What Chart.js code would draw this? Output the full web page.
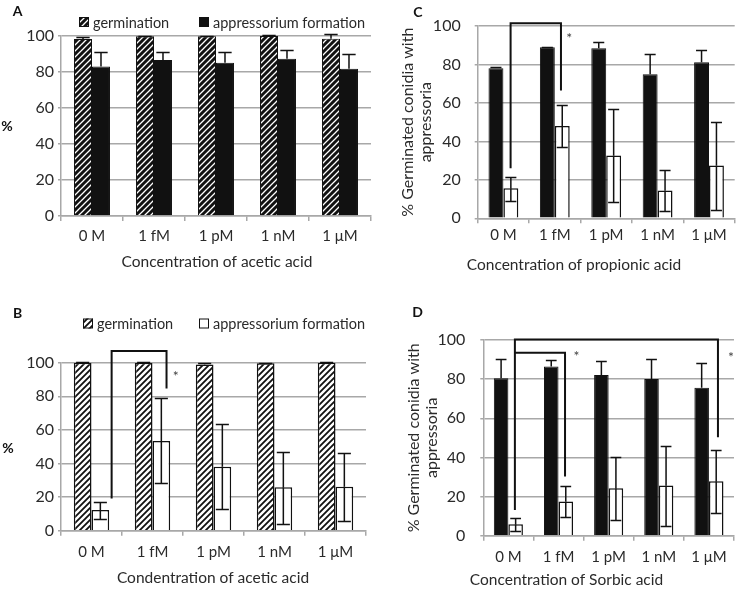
<!DOCTYPE html>
<html>
<head>
<meta charset="utf-8">
<script src="https://cdn.jsdelivr.net/npm/chart.js@4.4.1/dist/chart.umd.min.js"></script>
<style>
  html, body { margin: 0; padding: 0; background: #fff; }
  #wrap { position: relative; width: 739px; height: 590px; overflow: hidden; }
  .panel { position: absolute; }
</style>
</head>
<body>
<div id="wrap">
  <div class="panel" style="left:0;top:0;width:372px;height:272px"><canvas id="chartA"></canvas></div>
  <div class="panel" style="left:0;top:280px;width:370px;height:310px"><canvas id="chartB"></canvas></div>
  <div class="panel" style="left:370px;top:0;width:369px;height:272px"><canvas id="chartC"></canvas></div>
  <div class="panel" style="left:370px;top:280px;width:369px;height:310px"><canvas id="chartD"></canvas></div>
</div>
<script>
// ---- data ---------------------------------------------------------------
const concLabels = ['0 M', '1 fM', '1 pM', '1 nM', '1 μM'];

// A: acetic acid (germination / appressorium formation)
const germA = [98.3, 99.8, 99.8, 100, 98.5];
const germAHi = [99.4, 100, 100, 100.6, 101.3];
const apprA = [83.1, 86.6, 85.2, 87.4, 81.8];
const apprAHi = [90.9, 91.3, 90.9, 92.0, 90.2];

// B: acetic acid, second experiment
const germB = [100, 100, 99.0, 99.6, 100];
const germBHi = [100.2, 100.2, 99.6, 100, 100.2];
const apprB = [12.3, 53.4, 38.1, 25.8, 26.2];
const apprBHi = [16.9, 78.8, 63.5, 47.0, 46.4];
const apprBLo = [7.1, 28.4, 12.7, 3.8, 6.0];

// C: propionic acid
const darkC = [78.0, 88.9, 88.4, 74.9, 81.1];
const darkCHi = [78.9, 89.2, 91.5, 85.3, 87.3];
const lightC = [15.6, 48.0, 32.6, 14.4, 27.4];
const lightCHi = [21.7, 58.9, 56.8, 25.0, 50.1];
const lightCLo = [9.0, 36.9, 8.3, 4.0, 4.3];

// D: sorbic acid
const darkD = [80.4, 86.4, 82.1, 80.1, 75.6];
const darkDHi = [90.5, 89.8, 89.3, 90.5, 88.4];
const lightD = [5.8, 17.5, 24.2, 25.6, 27.8];
const lightDHi = [9.0, 25.4, 40.2, 46.0, 44.0];
const lightDLo = [2.6, 9.4, 8.0, 5.1, 11.8];

// significance brackets: [fromCat, toCat, level, leftDrop, rightDrop]
const bracketsB = [[0.33, 1.23, 107, 19.2, 84.7]];
const bracketsC = [[0.14, 1.12, 101.4, 26, 66.4]];
const bracketsD = [[0.13, 4.18, 100.2, 13.1, 50.3], [0.13, 1.13, 93.5, 93.5, 30.2]];
// asterisks: [cat, value]
const starsB = [[1.38, 92.7]];
const starsC = [[1.28, 94.3]];
const starsD = [[1.36, 92.8], [4.44, 92.3]];

// ---- look ---------------------------------------------------------------
const FONT = "Lato, 'Open Sans', sans-serif";
const TXT = '#2a2a2a';
const GRID = '#a8a8a8';
Chart.defaults.font.family = FONT;
Chart.defaults.font.size = 15;
Chart.defaults.color = TXT;
Chart.defaults.animation = false;

const hatch = (bg, fg, lw, n) => {
  const c = document.createElement('canvas');
  c.width = n; c.height = n;
  const g = c.getContext('2d');
  g.fillStyle = bg; g.fillRect(0, 0, n, n);
  g.strokeStyle = fg; g.lineWidth = lw;
  g.beginPath();
  g.moveTo(-1, n + 1); g.lineTo(n + 1, -1);
  g.moveTo(-n, n); g.lineTo(n, -n);
  g.moveTo(0, 2 * n); g.lineTo(2 * n, 0);
  g.stroke();
  return g.createPattern(c, 'repeat');
};
const darkHatch = hatch('#111', '#fff', 1.3, 6);
const lightHatch = hatch('#fff', '#111', 1.8, 6);

// error bars, brackets, stars, legend and captions
const deco = {
  id: 'deco',
  afterDatasetsDraw(chart, args, o) {
    const { ctx } = chart;
    const xs = chart.scales.x, ys = chart.scales.y;
    ctx.save();
    ctx.strokeStyle = '#111';
    ctx.lineWidth = 1.5;
    (o.errors || []).forEach((err, di) => {
      if (!err) return;
      chart.getDatasetMeta(di).data.forEach((bar, i) => {
        const half = bar.width * 0.37;
        [err.hi, err.lo].forEach((arr) => {
          if (!arr) return;
          const ye = Math.round(ys.getPixelForValue(arr[i])) + 0.5;
          ctx.beginPath();
          ctx.moveTo(bar.x, bar.y);
          ctx.lineTo(bar.x, ye);
          ctx.moveTo(bar.x - half, ye);
          ctx.lineTo(bar.x + half, ye);
          ctx.stroke();
        });
      });
    });
    ctx.lineWidth = 2;
    (o.brackets || []).forEach(([a, b, lvl, dl, dr]) => {
      const x1 = xs.getPixelForValue(a), x2 = xs.getPixelForValue(b);
      const yl = ys.getPixelForValue(lvl);
      ctx.beginPath();
      ctx.moveTo(x1, ys.getPixelForValue(dl));
      ctx.lineTo(x1, yl);
      ctx.lineTo(x2, yl);
      ctx.lineTo(x2, ys.getPixelForValue(dr));
      ctx.stroke();
    });
    ctx.fillStyle = '#444';
    ctx.font = '14px ' + FONT;
    ctx.textAlign = 'center';
    ctx.textBaseline = 'middle';
    (o.stars || []).forEach(([c, v]) => {
      ctx.fillText('*', xs.getPixelForValue(c), ys.getPixelForValue(v) + 2);
    });
    ctx.restore();
  },
  afterDraw(chart, args, o) {
    const { ctx } = chart;
    ctx.save();
    ctx.textBaseline = 'middle';
    ctx.fillStyle = '#111';
    ctx.font = 'bold 14px ' + FONT;
    ctx.textAlign = 'center';
    if (o.letter) ctx.fillText(o.letter[0], o.letter[1], o.letter[2]);
    if (o.pct) ctx.fillText('%', o.pct[0], o.pct[1]);
    ctx.fillStyle = TXT;
    ctx.font = '15.5px ' + FONT;
    if (o.xTitle) ctx.fillText(o.xTitle[0], o.xTitle[1], o.xTitle[2]);
    ctx.textAlign = 'left';
    ctx.font = '14.5px ' + FONT;
    (o.legend || []).forEach(([label, fill, x, y]) => {
      ctx.fillStyle = fill;
      ctx.fillRect(x, y - 5, 10, 10);
      ctx.strokeStyle = '#111';
      ctx.lineWidth = 1;
      ctx.strokeRect(x + 0.5, y - 4.5, 9, 9);
      ctx.fillStyle = TXT;
      ctx.fillText(label, x + 14, y + 1);
    });
    ctx.restore();
  },
};

const makePanel = (id, p) => {
  const datasets = p.series.map((s) => ({
    data: s.data,
    backgroundColor: s.fill,
    borderColor: '#111',
    borderWidth: s.border,
    borderSkipped: 'bottom',
    categoryPercentage: 0.58,
    barPercentage: 1.0,
  }));
  return new Chart(document.getElementById(id), {
    type: 'bar',
    data: { labels: concLabels, datasets },
    plugins: [deco],
    options: {
      responsive: true,
      maintainAspectRatio: false,
      layout: { padding: p.pad },
      plugins: {
        legend: { display: false },
        tooltip: { enabled: false },
        deco: p.deco,
      },
      scales: {
        x: {
          grid: { offset: true, drawOnChartArea: false, color: GRID, lineWidth: 1.5, tickLength: 5 },
          border: { color: GRID, width: 1.5 },
          ticks: { padding: p.xPad, color: TXT, font: { size: 15 } },
          afterFit: (s) => { s.height = p.xHeight; },
        },
        y: {
          min: 0,
          max: 100,
          ticks: { stepSize: 20, padding: p.yPad, color: TXT, font: { size: 16 } },
          grid: { color: GRID, lineWidth: 1.5, tickLength: 3 },
          border: { color: GRID, width: 1.5 },
          title: p.yTitle
            ? { display: true, text: p.yTitle, color: TXT, font: { size: 16, lineHeight: 1.12 }, padding: { top: p.yTitlePad, bottom: 0 } }
            : { display: false },
          afterFit: (s) => { s.width = p.yWidth; },
        },
      },
    },
  });
};

// A
makePanel('chartA', {
  series: [
    { data: germA, fill: darkHatch, border: 1 },
    { data: apprA, fill: '#111', border: 1 },
  ],
  pad: { top: 36, right: 1, left: 0, bottom: 0 },
  xHeight: 56, xPad: 6, yPad: 4, yWidth: 61,
  deco: {
    errors: [{ hi: germAHi }, { hi: apprAHi }],
    letter: ['A', 17.5, 11],
    pct: [7, 126],
    xTitle: ['Concentration of acetic acid', 217, 261.5],
    legend: [['germination', darkHatch, 79, 22], ['appressorium formation', '#111', 199, 22]],
  },
});

// B
makePanel('chartB', {
  series: [
    { data: germB, fill: lightHatch, border: 1.5 },
    { data: apprB, fill: '#fff', border: 1.5 },
  ],
  pad: { top: 82.7, right: 4, left: 0, bottom: 0 },
  xHeight: 59.3, xPad: 7.5, yPad: 4, yWidth: 61,
  deco: {
    errors: [{ hi: germBHi }, { hi: apprBHi, lo: apprBLo }],
    brackets: bracketsB,
    stars: starsB,
    letter: ['B', 17.5, 33.5],
    pct: [8, 168],
    xTitle: ['Condentration of acetic acid', 213, 298],
    legend: [['germination', lightHatch, 83, 43.5], ['appressorium formation', '#fff', 199, 43.5]],
  },
});

// C
makePanel('chartC', {
  series: [
    { data: darkC, fill: '#111', border: 1 },
    { data: lightC, fill: '#fff', border: 1.5 },
  ],
  pad: { top: 26, right: 4.3, left: 0, bottom: 0 },
  xHeight: 53.7, xPad: 2.5, yPad: 14, yWidth: 107.7,
  yTitle: ['% Germinated conidia with', 'appressoria'],
  yTitlePad: 29,
  deco: {
    errors: [{ hi: darkCHi }, { hi: lightCHi, lo: lightCLo }],
    brackets: bracketsC,
    stars: starsC,
    letter: ['C', 48, 12],
    xTitle: ['Concentration of propionic acid', 204, 265],
  },
});

// D
makePanel('chartD', {
  series: [
    { data: darkD, fill: '#111', border: 1 },
    { data: lightD, fill: '#fff', border: 1.5 },
  ],
  pad: { top: 60, right: 5, left: 0, bottom: 0 },
  xHeight: 54.3, xPad: 7.5, yPad: 15, yWidth: 113.3,
  yTitle: ['% Germinated conidia with', 'appressoria'],
  yTitlePad: 35,
  deco: {
    errors: [{ hi: darkDHi }, { hi: lightDHi, lo: lightDLo }],
    brackets: bracketsD,
    stars: starsD,
    letter: ['D', 47.5, 32.5],
    xTitle: ['Concentration of Sorbic acid', 196.5, 299.5],
  },
});
</script>
</body>
</html>
